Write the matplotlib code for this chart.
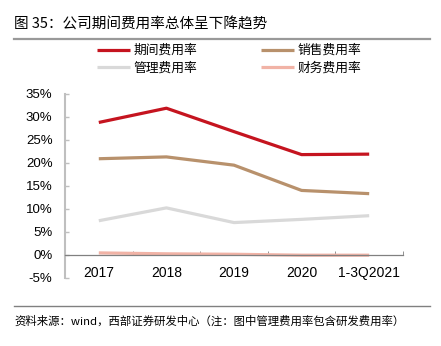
import numpy as np
import matplotlib.pyplot as plt
from matplotlib.lines import Line2D
from matplotlib.ticker import FixedLocator

plt.rcParams["font.family"] = ["Liberation Sans", "Noto Sans CJK SC", "DejaVu Sans"]
CJK = ["Noto Sans CJK SC", "DejaVu Sans"]

years = ["2017", "2018", "2019", "2020", "1-3Q2021"]
period_rate = [28.8, 31.9, 26.8, 21.8, 21.9]
sales_rate = [20.9, 21.3, 19.5, 14.0, 13.3]
admin_rate = [7.4, 10.2, 7.0, 7.7, 8.5]
finance_rate = [0.4, 0.2, 0.1, -0.1, -0.1]

series = [
    ("期间费用率", period_rate, "#C5141F"),
    ("管理费用率", admin_rate, "#D9D9D9"),
    ("销售费用率", sales_rate, "#B8916C"),
    ("财务费用率", finance_rate, "#F1B3A6"),
]

fig = plt.figure(figsize=(4.41, 3.46), dpi=100)
ax = fig.add_axes([0.1474, 0.1974, 0.7664, 0.531])

x = np.arange(len(years))
handles = []
for name, vals, color in series:
    (ln,) = ax.plot(x, vals, color=color, lw=2.3, solid_capstyle="butt", label=name)
    handles.append(ln)

ax.set_xlim(-0.5, len(years) - 0.5)
ax.set_ylim(-5, 35)
yt = np.arange(-5, 36, 5)
ax.set_yticks(yt)
ax.set_yticklabels([f"{v}%" for v in yt], fontsize=9.5)
ax.set_xticks(x)
ax.set_xticklabels(years, fontsize=9.5)
ax.xaxis.set_minor_locator(FixedLocator(np.arange(0.5, len(years), 1.0)))

for s in ["top", "right"]:
    ax.spines[s].set_visible(False)
ax.spines["bottom"].set_position(("data", 0))
ax.spines["bottom"].set_color("#808080")
ax.spines["bottom"].set_linewidth(0.9)
ax.spines["left"].set_color("#BFBFBF")
ax.spines["left"].set_linewidth(1.5)

ax.tick_params(axis="x", which="major", length=0, pad=8, colors="black")
ax.tick_params(axis="x", which="minor", direction="in", length=3, color="#808080")
ax.tick_params(axis="y", direction="in", length=3, width=1, color="#BFBFBF", pad=9)

# legend above the plot, two columns
fig.legend(handles=handles, loc="upper left", bbox_to_anchor=(97 / 441, 1 - 44 / 346),
           ncol=2, frameon=False, borderpad=0, borderaxespad=0, handlelength=2.6,
           handletextpad=0.25, columnspacing=5.0, labelspacing=0.36,
           prop={"family": CJK, "size": 9.2})

# title and rules
fig.text(14 / 441, 1 - 24 / 346, "图 35：公司期间费用率总体呈下降趋势", fontsize=10.5,
         family=CJK, ha="left", va="center")
fig.add_artist(Line2D([14 / 441, 430 / 441], [1 - 39 / 346] * 2, color="#999999", lw=1.6))
fig.add_artist(Line2D([14 / 441, 430 / 441], [1 - 306 / 346] * 2, color="#808080", lw=1.0))
fig.text(14 / 441, 1 - 321 / 346, "资料来源：wind，西部证券研发中心（注：图中管理费用率包含研发费用率）",
         fontsize=8.2, family=CJK, ha="left", va="center")

fig.savefig("out.png", dpi=100)
